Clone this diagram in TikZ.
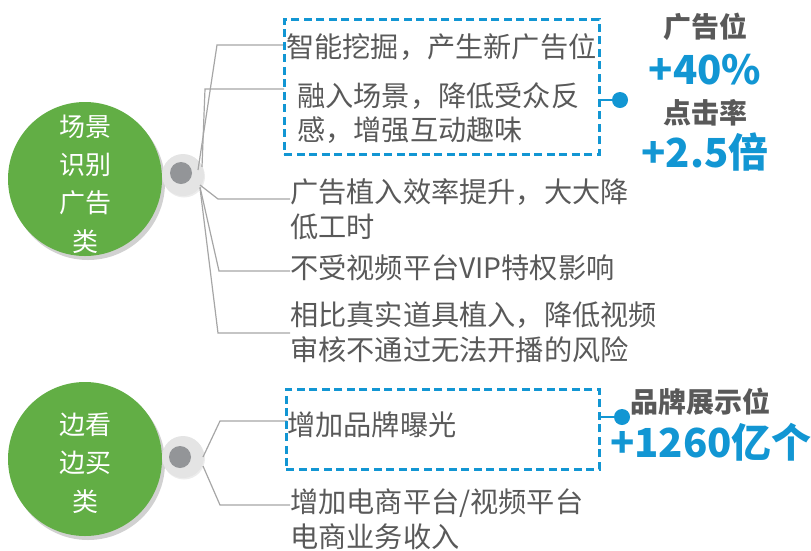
\documentclass[tikz,border=0pt]{standalone}
\usepackage{fontspec}
\setmainfont{Noto Sans CJK SC}
\usetikzlibrary{shadows,calc}
\definecolor{tgray}{HTML}{595959}
\definecolor{lgreen}{HTML}{62AE45}
\definecolor{cblue}{HTML}{1296D3}
\definecolor{lgray}{HTML}{A6A6A6}
\definecolor{hubl}{HTML}{E4E4E4}
\definecolor{hubd}{HTML}{939598}
\begin{document}
\begin{tikzpicture}[x=1pt,y=-1pt,
  topic/.style={circle, fill=lgreen, minimum size=154pt, inner sep=0,
    drop shadow={shadow xshift=3pt, shadow yshift=-4pt, opacity=0.3, fill=black!60}},
  topictext/.style={text=white, align=center, inner sep=0, font=\fontsize{26}{38.3}\selectfont},
  hubring/.style={circle, fill=hubl, minimum size=42pt, inner sep=0,
    drop shadow={shadow xshift=1pt, shadow yshift=-1.5pt, opacity=0.15}},
  hubdot/.style={circle, fill=hubd, minimum size=22pt, inner sep=0},
  item/.style={anchor=west, inner sep=0, text=tgray, align=left, font=\fontsize{28.2}{34.5}\selectfont},
  conn/.style={draw=lgray, line width=1.2pt},
  hlbox/.style={draw=cblue, line width=2.8pt, dash pattern=on 8pt off 4.5pt},
  bdot/.style={circle, fill=cblue, minimum size=16pt, inner sep=0},
  bline/.style={draw=cblue, line width=2.4pt},
  stat/.style={inner sep=0, text=tgray, font=\fontsize{28}{30}\selectfont\bfseries},
  big/.style={inner sep=0, text=cblue, font=\fontsize{40}{42}\selectfont\bfseries}
]
\useasboundingbox (0,0) rectangle (811,550);

% topic circles
\node[topic] (g1) at (85,179) {};
\node[topictext] (g1t) at (85,184) {场景\\识别\\广告\\类};
\node[topic] (g2) at (85,459) {};
\node[topictext] (g2t) at (85,463) {边看\\边买\\类};

% hubs
\node[hubring] (h1) at (183,175) {};
\node[hubdot] (hd1) at (181,173) {};
\node[hubring] (h2) at (183,457) {};
\node[hubdot] (hd2) at (180,457) {};

% items of the first topic
\node[item] (t1) at (286,47) {智能挖掘，产生新广告位};
\node[item] (t2) at (297,113) {融入场景，降低受众反\\感，增强互动趣味};
\node[item] (t3) at (290,209) {广告植入效率提升，大大降\\低工时};
\node[item] (t4) at (290,268) {不受视频平台VIP特权影响};
\node[item] (t5) at (290,332) {相比真实道具植入，降低视频\\审核不通过无法开播的风险};

% items of the second topic
\node[item] (t6) at (287,425) {增加品牌曝光};
\node[item] (t7) at (290,519) {增加电商平台/视频平台\\电商业务收入};

% connector start and bend points
\coordinate (s1) at (198,170);
\coordinate (s2) at (202,167);
\coordinate (s3) at (200,185);
\coordinate (s4) at (200,187);
\coordinate (s5) at (200,188);
\coordinate (k1) at (217,45);
\coordinate (k2) at (205,89);
\coordinate (k3) at (218,199);
\coordinate (k4) at (219,271);
\coordinate (k5) at (218,333);
\coordinate (s6) at (203,457);
\coordinate (s7) at (203,466);
\coordinate (k6) at (220,421);
\coordinate (k7) at (220,505);
\coordinate (e2) at (284,89);

\draw[conn] (s1) -- (k1) -- (t1.west |- k1);
\draw[conn] (s2) -- (k2) -- (e2);
\draw[conn] (s3) -- (k3) -- (t3.west |- k3);
\draw[conn] (s4) -- (k4) -- (t4.west |- k4);
\draw[conn] (s5) -- (k5) -- (t5.west |- k5);
\draw[conn] (s6) -- (k6) -- (t6.west |- k6);
\draw[conn] (s7) -- (k7) -- (t7.west |- k7);

% highlight boxes
\node[hlbox, inner sep=0, minimum width=315pt, minimum height=135pt, anchor=north west] (b1) at (283,18) {};
\node[hlbox, inner sep=0, minimum width=313pt, minimum height=80pt, anchor=north west] (b2) at (285,388) {};

\node[bdot] (d1) at (620,100) {};
\node[bdot] (d2) at (622,417) {};
\draw[bline] (b1.east |- d1) -- (d1);
\draw[bline] (b2.east |- d2) -- (d2);

% statistics
\node[stat] (a1) at (705,27) {广告位};
\node[big] (a2) at (705,70) {+40\%};
\node[stat] (a3) at (705,113) {点击率};
\node[big] (a4) at (705,152) {+2.5倍};
\node[stat] (a5) at (700,402) {品牌展示位};
\node[big] (a6) at (711,442) {+1260亿个};
\end{tikzpicture}
\end{document}
